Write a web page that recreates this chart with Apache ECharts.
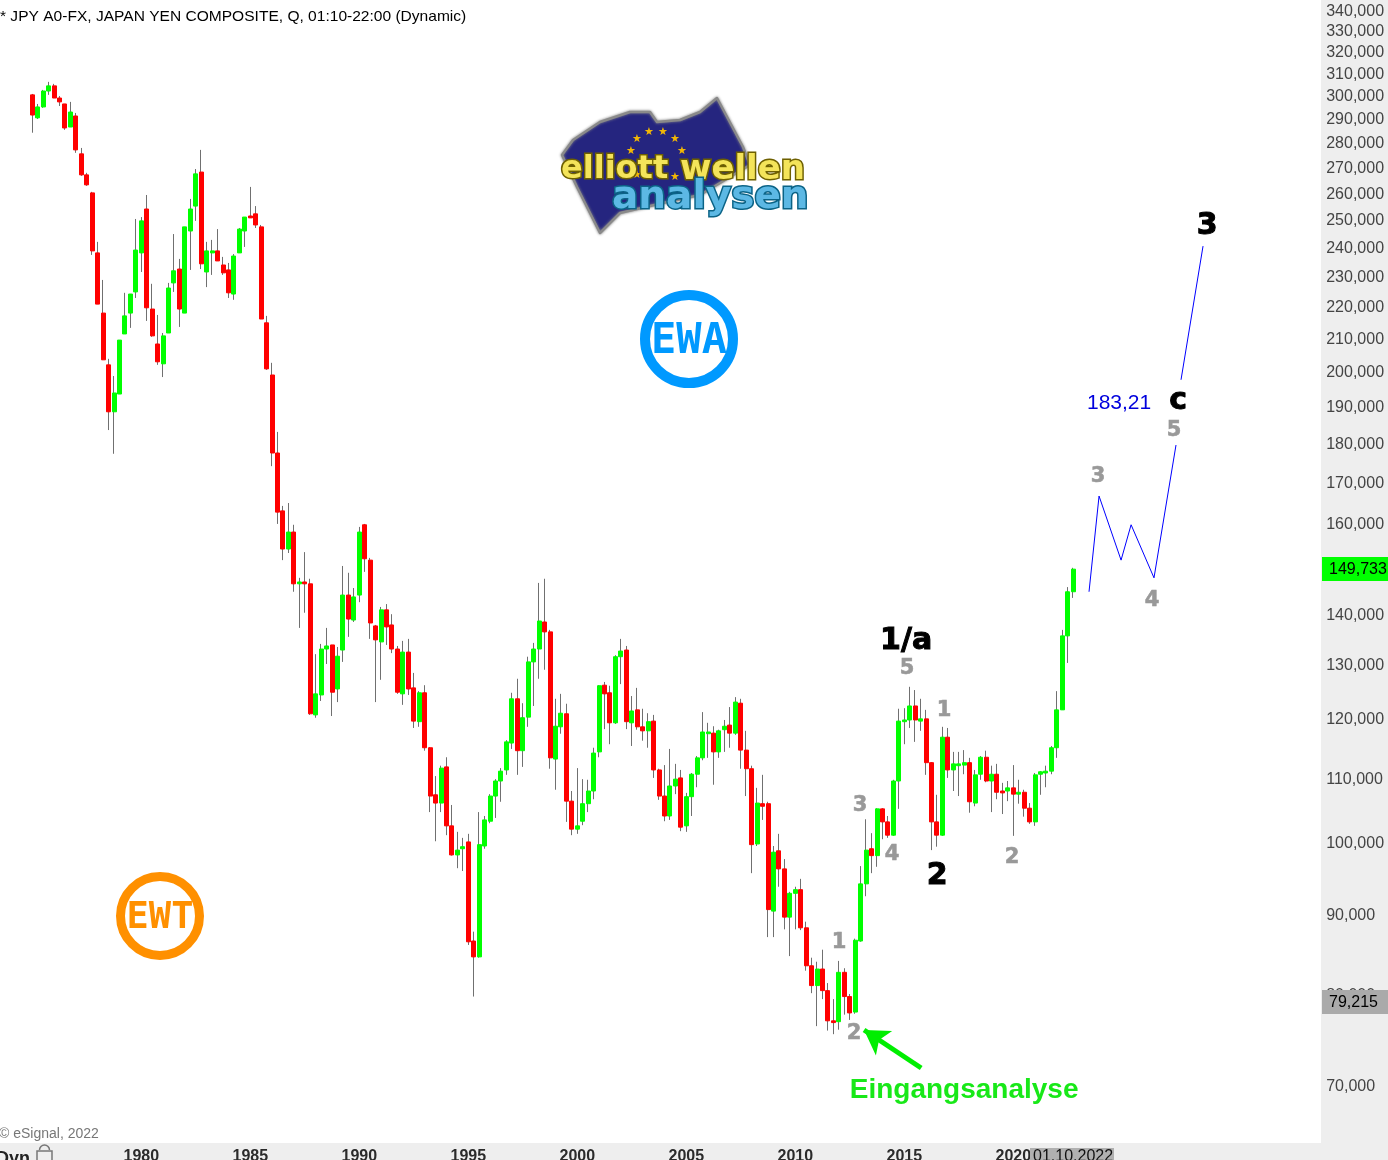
<!DOCTYPE html>
<html><head><meta charset="utf-8"><style>html,body{margin:0;padding:0;background:#fff}#c{width:1388px;height:1160px}</style>
<script src="https://cdn.jsdelivr.net/npm/echarts@6/dist/echarts.min.js"></script></head><body><div id="c"></div><script>
// Quarterly candles, values in thousands, 1975 Q1 .. 2022 Q4
const open=[300.9,290.9,295.6,302.6,304.9,299.5,296.9,287.0,291.7,275.9,267.5,260.5,238.5,218.3,202.3,188.8,193.8,211.7,218.3,225.2,238.5,254.4,219.6,208.6,
202.6,212.0,228.2,232.9,218.3,246.3,255.5,268.6,231.9,238.5,239.2,234.3,232.6,224.5,238.5,246.3,251.8,252.6,247.8,215.2,199.3,177.7,163.2,154.3,
158.2,146.6,147.0,146.6,120.9,124.5,133.2,134.0,125.6,133.0,144.2,139.0,144.2,159.9,151.8,137.8,134.6,141.1,138.0,133.2,124.7,132.6,125.8,119.7,
124.9,115.2,107.5,106.2,112.0,102.7,98.4,99.3,100.3,86.7,84.7,99.7,103.4,107.3,109.7,111.5,116.0,123.8,114.7,120.5,130.7,133.2,138.6,136.6,
113.3,118.8,121.1,106.5,102.2,103.4,106.1,108.1,114.5,126.3,124.9,119.5,131.7,133.0,119.5,121.8,118.8,118.1,119.8,111.5,107.3,104.2,108.9,110.2,
102.7,107.2,110.8,113.5,117.6,117.7,114.5,118.3,119.1,117.7,123.0,114.8,111.7,100.0,106.1,106.1,90.6,99.0,96.4,89.8,93.0,93.5,88.4,83.6,
81.2,83.2,80.6,77.1,77.0,82.8,79.9,78.1,86.7,94.3,99.3,98.3,105.3,103.3,101.3,109.7,119.7,120.0,122.5,119.8,120.2,112.7,103.3,101.3,
117.0,111.5,112.2,112.3,112.7,106.2,110.8,113.6,109.7,110.8,108.1,108.1,108.6,107.6,107.9,105.4,103.3,110.8,111.0,111.3,115.2,121.8,135.8,144.9];
const close=[292.1,295.6,302.6,304.9,299.5,297.8,286.6,293.4,277.5,267.5,263.6,239.2,221.2,203.8,188.8,194.1,209.8,217.4,224.5,239.5,250.0,220.0,211.1,203.2,
211.1,226.5,232.3,219.6,247.8,254.4,267.9,234.7,239.2,239.2,235.7,231.6,224.9,237.4,247.0,251.4,251.1,248.5,216.4,201.1,177.7,162.9,154.3,158.2,
146.6,147.0,146.6,121.1,124.7,133.2,133.8,125.0,131.8,144.2,139.2,143.8,158.2,152.1,138.4,135.0,141.1,137.6,133.2,125.0,132.6,125.6,119.8,124.9,
115.2,107.3,106.2,111.8,102.7,98.4,99.1,99.6,86.6,84.7,99.9,103.6,107.3,109.7,111.3,116.2,123.8,114.7,120.4,130.7,133.2,138.8,136.6,113.5,
118.9,121.2,106.5,102.2,102.7,106.1,108.1,114.3,126.2,124.7,119.5,131.7,132.8,119.7,121.6,118.8,118.1,119.7,111.5,107.3,104.2,108.9,110.0,102.5,
107.2,110.8,113.5,117.9,117.9,114.5,118.1,118.9,117.7,123.2,114.8,111.7,99.9,106.2,105.7,90.8,98.8,96.4,89.8,93.0,93.5,88.4,83.6,81.2,
83.2,80.6,77.1,76.9,82.8,79.9,78.0,86.8,94.3,99.1,98.3,105.3,103.3,101.3,109.7,119.8,120.0,122.5,120.0,120.2,112.7,103.3,101.3,117.0,
111.5,112.5,112.5,112.7,106.4,110.7,113.6,109.7,110.8,107.9,107.8,108.6,107.6,107.9,105.4,103.3,110.7,111.2,111.3,115.2,121.8,135.8,144.9,149.8];
const low=[284.6,290.4,295.2,300.9,299.5,296.0,285.8,287.0,276.3,267.1,263.2,237.8,221.2,203.8,183.8,177.5,193.8,211.7,213.6,223.2,231.9,215.8,210.8,202.3,
198.7,212.0,225.2,213.9,218.3,232.6,250.0,232.9,226.8,230.9,235.7,230.9,223.2,222.6,238.5,240.6,251.1,247.4,216.4,200.8,174.3,160.1,151.8,153.4,
144.9,137.4,140.5,120.9,120.4,123.4,130.3,120.7,123.2,130.7,135.6,138.6,142.7,149.2,135.2,123.2,127.3,134.0,132.4,124.7,122.7,124.5,118.6,118.8,
114.7,104.8,100.4,104.8,101.3,98.3,96.5,96.1,86.2,79.9,84.6,99.3,103.1,103.9,106.4,110.7,115.0,110.7,112.0,118.8,122.5,127.5,129.2,111.7,
108.3,117.6,103.3,101.3,101.5,102.8,104.8,106.8,113.6,118.4,115.8,119.3,126.5,118.4,115.5,118.3,116.4,115.2,110.2,106.7,103.4,103.6,107.6,101.9,
101.8,104.2,108.7,113.1,113.5,109.1,113.5,114.5,115.2,117.4,111.7,107.3,95.8,99.7,103.6,87.2,87.2,93.9,88.2,84.8,88.2,88.1,83.0,80.3,
76.5,79.6,76.0,75.6,76.1,77.8,77.2,77.9,86.6,92.6,95.8,96.7,100.7,100.9,101.2,105.3,115.8,118.6,116.2,118.1,110.7,99.1,99.6,101.2,
110.2,108.1,107.3,110.8,104.7,105.7,109.9,109.5,104.8,106.8,104.5,106.5,101.2,106.1,104.1,103.0,102.7,107.5,108.7,110.8,113.5,121.8,130.5,143.6];
const high=[301.3,296.9,303.1,306.7,305.8,300.4,296.9,297.8,293.0,278.3,268.3,260.9,242.4,229.2,204.1,199.0,209.8,224.9,224.5,250.7,251.4,259.7,227.9,217.7,
212.0,228.2,245.2,236.4,247.8,258.2,269.8,277.5,242.4,243.1,247.0,237.1,235.0,238.1,247.4,251.4,262.8,255.5,248.5,217.4,202.9,183.3,164.4,165.1,
159.9,147.9,153.6,147.7,132.2,134.2,137.4,134.0,133.6,150.5,149.0,145.7,159.4,160.1,152.3,138.0,141.7,142.3,140.2,133.8,134.8,135.2,128.6,125.2,
126.3,115.3,110.5,112.2,113.6,105.9,101.8,100.9,101.5,87.9,104.8,104.2,107.6,110.0,111.8,116.5,124.9,127.5,123.0,131.7,134.4,146.8,147.7,137.0,
123.8,124.7,122.9,108.1,111.8,110.0,109.9,115.2,126.3,126.9,126.2,132.0,135.2,133.8,124.3,125.8,122.0,121.2,120.9,111.7,112.3,115.0,112.5,111.5,
107.8,111.0,113.8,121.4,119.5,118.9,118.3,120.0,122.3,124.1,123.8,118.1,112.2,108.6,110.7,106.4,99.7,101.5,97.8,93.2,93.9,95.0,89.2,84.6,
84.1,85.6,81.5,79.6,84.2,83.3,80.2,87.0,96.8,103.7,101.6,105.4,105.4,104.2,109.9,122.0,122.1,126.0,125.4,123.8,121.8,112.8,107.5,118.8,
118.6,114.5,114.5,114.8,113.5,111.5,113.8,114.7,112.2,112.5,109.4,109.7,112.3,109.9,108.3,106.2,111.0,111.3,112.2,115.5,125.2,137.0,145.9,150.1];
const yTicks=[340,330,320,310,300,290,280,270,260,250,240,230,220,210,200,190,180,170,160,140,130,120,110,100,90,80,70];
const yearLabels=[1980,1985,1990,1995,2000,2005,2010,2015,2020];
const forecastA=[[2023.47,144.9],[2023.93,166.8],[2024.94,151.8],[2025.40,159.9],[2026.45,147.9],[2027.46,179.8]];
const forecastB=[[2027.69,197.9],[2028.70,240.9]];
const waveGrey=[['1',2012.0,86.7],['2',2012.69,75.85],['3',2012.97,106.2],['4',2014.44,98.8],['5',2015.12,129.9],['1',2016.82,122.0],['2',2019.94,98.25],['3',2023.88,172.1],['4',2026.36,143.4],['5',2027.37,184.1]];
const waveBlack=[['1/a',2015.08,135.2],['2',2016.5,95.7],['c',2027.56,192.4],['3',2028.89,248.9]];
const target=['183,21',2024.85,191.6];
const entry=['Eingangsanalyse',2017.74,69.75];
const entryArrow=[[2015.77,71.93],[2013.15,76.07]];

const leadSlots=5,totalSlots=242;
const categories=[];
for(let i=0;i<totalSlots;i++){const q=i-leadSlots+4*1975;const y=Math.floor(q/4);categories.push(y+'Q'+(q-y*4+1));}
const wicks=[],bodies=[];
for(let i=0;i<totalSlots;i++){
  if(i<leadSlots||i-leadSlots>=open.length){wicks.push('-');bodies.push('-');continue;}
  const k=i-leadSlots,o=open[k],c=close[k];
  wicks.push([o,c,low[k],high[k]]);
  bodies.push([o,c,Math.min(o,c),Math.max(o,c)]);
}
const lab=(name,a,color,size,extra)=>({type:'scatter',name,xAxisIndex:1,symbolSize:0,silent:true,z:6,itemStyle:{opacity:1},
  data:a.map(d=>({value:[d[1],d[2]],label:{formatter:d[0]}})),
  label:Object.assign({show:true,position:'inside',offset:[0,2],opacity:1,color,fontSize:size,fontWeight:'bold',fontFamily:'DejaVu Sans'},extra||{})});
const FONT='"Liberation Sans",Arial,sans-serif';
const star=[[637,139],[649,132],[663,132],[675,139],[682,151],[631,151],[675,177],[637,175]];
const chart=echarts.init(document.getElementById('c'),null,{renderer:'canvas'});
chart.setOption({
  animation:false,backgroundColor:'#fff',
  grid:{left:2.3,top:0,width:1318.9,height:1143,containLabel:false,outerBoundsMode:'none'},
  xAxis:[{type:'category',data:categories,boundaryGap:true,axisLine:{show:false},axisTick:{show:false},splitLine:{show:false},
    axisLabel:{show:true,margin:6,color:'#2b2b2b',fontFamily:FONT,fontSize:16,fontWeight:'bold',hideOverlap:false,
      interval:(i,v)=>v.endsWith('Q1')&&yearLabels.includes(+v.slice(0,4)),formatter:v=>v.slice(0,4)}},
    {type:'value',min:1973.62,max:2034.12,show:false,splitLine:{show:false}}],
  yAxis:{type:'log',position:'right',min:64.42,max:345.94,axisLine:{show:false},axisTick:{show:false},splitLine:{show:false},
    axisLabel:{show:true,customValues:yTicks,margin:5,padding:[3,0,0,0],color:'#444',fontFamily:FONT,fontSize:16,align:'left',
      formatter:v=>Math.round(v*1000).toLocaleString('en-US')}},
  series:[
    {type:'candlestick',name:'wicks',data:wicks,barWidth:1,silent:true,z:2,itemStyle:{color:'#707070',color0:'#707070',borderColor:'#707070',borderColor0:'#707070',borderWidth:1}},
    {type:'candlestick',name:'JPY A0-FX',data:bodies,barWidth:4.5,silent:true,z:3,itemStyle:{color:'#00ff00',color0:'#ff0000',borderColor:'#00ff00',borderColor0:'#ff0000',borderWidth:1}},
    {type:'line',name:'forecast 1',xAxisIndex:1,data:forecastA,symbol:'none',silent:true,z:4,lineStyle:{color:'#0000ff',width:1}},
    {type:'line',name:'forecast 2',xAxisIndex:1,data:forecastB,symbol:'none',silent:true,z:4,lineStyle:{color:'#0000ff',width:1}},
    lab('waves',waveGrey,'#999',21,{textBorderColor:'#999',textBorderWidth:0.6}),
    lab('degree',waveBlack,'#000',30,{textBorderColor:'#000',textBorderWidth:1}),
    lab('target',[target],'#0000dd',21,{fontWeight:'normal',fontFamily:FONT,offset:[0,1]}),
    lab('entry',[entry],'#18e818',28,{fontFamily:FONT,offset:[0,1]}),
    {type:'line',name:'arrow',xAxisIndex:1,data:[],silent:true,z:5,
     markLine:{silent:true,symbol:['none','arrow'],symbolSize:[22,24],label:{show:false},lineStyle:{color:'#00ee00',width:5,type:'solid',opacity:1},
       data:[[{coord:entryArrow[0]},{coord:entryArrow[1]}]]}}
  ],
  graphic:[
    {type:'rect',z:-1,silent:true,shape:{x:1321,y:0,width:67,height:1160},style:{fill:'#eeeeee'}},
    {type:'rect',z:-1,silent:true,shape:{x:0,y:1143,width:1388,height:17},style:{fill:'#eeeeee'}},
    {type:'rect',z:50,silent:true,shape:{x:1322,y:557,width:66,height:24},style:{fill:'#00ff00'}},
    {type:'text',z:51,silent:true,style:{x:1329,y:570,text:'149,733',fill:'#000',font:'16px '+FONT,textVerticalAlign:'middle'}},
    {type:'rect',z:50,silent:true,shape:{x:1322,y:990,width:66,height:24},style:{fill:'#aaaaaa'}},
    {type:'text',z:51,silent:true,style:{x:1329,y:1003,text:'79,215',fill:'#000',font:'16px '+FONT,textVerticalAlign:'middle'}},
    {type:'rect',z:50,silent:true,shape:{x:1030,y:1148,width:84,height:12},style:{fill:'#b0b0b0'}},
    {type:'text',z:51,silent:true,style:{x:1033,y:1149,text:'01.10.2022',fill:'#111',font:'16px '+FONT,textVerticalAlign:'top'}},
    {type:'text',silent:true,style:{x:0,y:17,text:'* JPY A0-FX, JAPAN YEN COMPOSITE, Q, 01:10-22:00 (Dynamic)',fill:'#000',font:'15.55px '+FONT,textVerticalAlign:'middle'}},
    {type:'text',silent:true,style:{x:-1,y:1134,text:'© eSignal, 2022',fill:'#777',font:'14px '+FONT,textVerticalAlign:'middle'}},
    {type:'text',silent:true,z:5,style:{x:-4,y:1150,text:'Dyn',fill:'#222',font:'bold 18px '+FONT,textVerticalAlign:'top'}},
    {type:'rect',silent:true,z:5,shape:{x:37,y:1151,width:15,height:12},style:{fill:'none',stroke:'#777',lineWidth:1.5}},
    {type:'arc',silent:true,z:5,shape:{cx:44.5,cy:1150,r:5,startAngle:Math.PI,endAngle:2*Math.PI},style:{fill:'none',stroke:'#777',lineWidth:1.5}},
    // EWA / EWT badges
    {type:'circle',silent:true,z:10,shape:{cx:689,cy:339,r:44},style:{fill:'#fff',stroke:'#0099ff',lineWidth:10}},
    {type:'text',silent:true,z:11,style:{x:689,y:342,text:'EWA',fill:'#0099ff',font:'bold 42px "DejaVu Sans Mono"',textAlign:'center',textVerticalAlign:'middle'}},
    {type:'circle',silent:true,z:10,shape:{cx:160,cy:916,r:39.5},style:{fill:'#fff',stroke:'#ff9000',lineWidth:9}},
    {type:'text',silent:true,z:11,style:{x:160,y:918,text:'EWT',fill:'#ff9000',font:'bold 37px "DejaVu Sans Mono"',textAlign:'center',textVerticalAlign:'middle'}},
    // logo
    {type:'polygon',silent:true,z:10,shape:{points:[[562,155],[573,140],[600,122],[630,112],[650,112],[657,122],[680,120],[700,112],[717,98],[743,147],[750,165],[700,195],[663,203],[620,213],[600,233],[577,187]]},style:{fill:'#25257f',stroke:'#8a8a8a',lineWidth:2.5,lineJoin:'round',shadowBlur:3,shadowColor:'#888'}}
  ].concat(star.map(p=>({type:'text',silent:true,z:11,style:{x:p[0],y:p[1],text:'★',fill:'#f2b705',font:'11px "DejaVu Sans"',textAlign:'center',textVerticalAlign:'middle'}})))
  .concat([
    {type:'text',silent:true,z:12,style:{x:561,y:170,text:'elliott',fill:'#f4e45a',stroke:'#6e6000',lineWidth:3,font:'bold 32px "DejaVu Sans"',textVerticalAlign:'middle',strokeFirst:true}},
    {type:'text',silent:true,z:12,style:{x:680,y:170,text:'wellen',fill:'#f4e45a',stroke:'#6e6000',lineWidth:3,font:'bold 34px "DejaVu Sans"',textVerticalAlign:'middle',strokeFirst:true}},
    {type:'text',silent:true,z:13,style:{x:612,y:198,text:'analysen',fill:'#5cb8e4',stroke:'#0b6386',lineWidth:3,font:'bold 39px "DejaVu Sans"',textVerticalAlign:'middle',strokeFirst:true}}
  ])
});
</script></body></html>
